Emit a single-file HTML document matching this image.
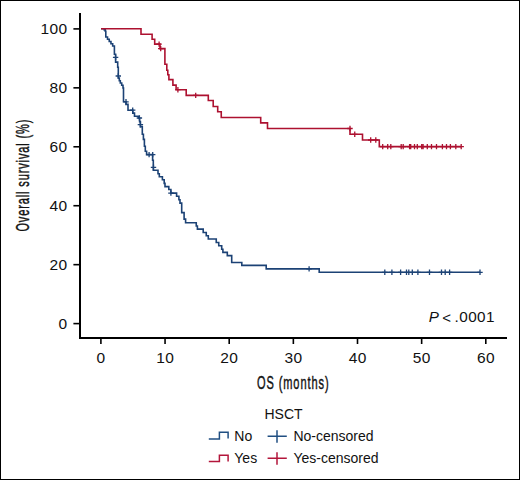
<!DOCTYPE html>
<html><head><meta charset="utf-8"><style>
html,body{margin:0;padding:0;background:#fff;}
body{width:520px;height:480px;overflow:hidden;position:relative;}
#frame{position:absolute;left:0;top:0;width:518px;height:478px;border:1px solid #000;}
svg{position:absolute;left:0;top:0;}
text{font-family:"Liberation Sans",sans-serif;fill:#111;}
</style></head><body>
<div id="frame"></div>
<svg width="520" height="480" viewBox="0 0 520 480">
<rect x="79" y="13" width="2" height="326" fill="#000"/>
<rect x="79" y="337" width="428" height="2" fill="#000"/>
<g stroke="#000" stroke-width="1.6" fill="none"><line x1="100.90" y1="339" x2="100.90" y2="344" /><line x1="165.05" y1="339" x2="165.05" y2="344" /><line x1="229.20" y1="339" x2="229.20" y2="344" /><line x1="293.35" y1="339" x2="293.35" y2="344" /><line x1="357.50" y1="339" x2="357.50" y2="344" /><line x1="421.65" y1="339" x2="421.65" y2="344" /><line x1="485.80" y1="339" x2="485.80" y2="344" /><line x1="73.4" y1="323.60" x2="79" y2="323.60" /><line x1="73.4" y1="264.66" x2="79" y2="264.66" /><line x1="73.4" y1="205.72" x2="79" y2="205.72" /><line x1="73.4" y1="146.78" x2="79" y2="146.78" /><line x1="73.4" y1="87.84" x2="79" y2="87.84" /><line x1="73.4" y1="28.90" x2="79" y2="28.90" /></g>
<g font-size="15.5" letter-spacing="0.4"><text x="101.05" y="363.4" text-anchor="middle">0</text><text x="165.20" y="363.4" text-anchor="middle">10</text><text x="229.35" y="363.4" text-anchor="middle">20</text><text x="293.50" y="363.4" text-anchor="middle">30</text><text x="357.65" y="363.4" text-anchor="middle">40</text><text x="421.80" y="363.4" text-anchor="middle">50</text><text x="485.95" y="363.4" text-anchor="middle">60</text><text x="67.6" y="328.70" text-anchor="end">0</text><text x="67.6" y="269.76" text-anchor="end">20</text><text x="67.6" y="210.82" text-anchor="end">40</text><text x="67.6" y="151.88" text-anchor="end">60</text><text x="67.6" y="92.94" text-anchor="end">80</text><text x="67.6" y="34.00" text-anchor="end">100</text></g>
<path d="M101,28.7 H104.3 V29.9 H105.3 V31.3 H105.8 V37 H107.52 V39.24 H109.24 V41.48 H110.96 V43.72 H112.68 V45.96 H114.40 V48.20 V54.2 H115.6 V62.1 H117.7 V67.3 H118.3 V78 H119.3 V80.7 H120.3 V83 H121.7 V85.3 H123 V88 H123.5 V101.8 H126 V104.4 H128 V110.2 H132.8 V113.1 H134.5 V116.3 H138.6 V118 H139.6 V121.6 H140.4 V126.6 H142.3 V134.2 H143.4 V139.4 H144.4 V146.25 H145.3 V151.25 H146.6 V154.6 H152.6 V160.3 H153.3 V170.2 H158 V173.8 H159.3 V176.7 H162.4 V179.8 H164.2 V183.4 H165 V186.6 H168.8 V189.5 H170.9 V193.1 H176.6 V196.3 H178.9 V199.7 H180 V203.1 H181.7 V212.6 H184.1 V219.1 H185.6 V222.8 H196.25 V226 H197.4 V229.1 H203.2 V232.5 H206.25 V235.8 H208.3 V239 H216.25 V242.5 H218.75 V245.8 H221.7 V249.2 H222.9 V252.4 H227.3 V255.6 H231.7 V262.5 H241.8 V265.4 H266.2 V268.9 H319.2 V272.3 H480" fill="none" stroke="#1c4275" stroke-width="1.6" />
<path d="M112.90,57.30H118.30M115.60,54.60V60.00M115.60,76.00H121.00M118.30,73.30V78.70M123.30,101.80H128.70M126.00,99.10V104.50M130.00,110.20H135.40M132.70,107.50V112.90M136.70,118.00H142.10M139.40,115.30V120.70M137.70,124.70H143.10M140.40,122.00V127.40M146.40,154.60H151.80M149.10,151.90V157.30M150.00,154.60H155.40M152.70,151.90V157.30M150.80,167.30H156.20M153.50,164.60V170.00M168.20,193.10H173.60M170.90,190.40V195.80M306.40,268.90H311.80M309.10,266.20V271.60M382.10,272.30H387.50M384.80,269.60V275.00M389.20,272.30H394.60M391.90,269.60V275.00M397.90,272.30H403.30M400.60,269.60V275.00M403.80,272.30H409.20M406.50,269.60V275.00M406.10,272.30H411.50M408.80,269.60V275.00M409.60,272.30H415.00M412.30,269.60V275.00M415.20,272.30H420.60M417.90,269.60V275.00M426.80,272.30H432.20M429.50,269.60V275.00M438.80,272.30H444.20M441.50,269.60V275.00M442.50,272.30H447.90M445.20,269.60V275.00M446.90,272.30H452.30M449.60,269.60V275.00M477.30,272.30H482.70M480.00,269.60V275.00" fill="none" stroke="#1c4275" stroke-width="1.3" />
<path d="M101,28.7 H141 V34.2 H152.1 V39.2 H154.7 V44.1 H160 V48.6 H164.9 V64.25 H166.8 V70.2 H167.8 V74.7 H168.9 V79.6 H172.9 V85.1 H176.1 V89.7 H186.2 V95.4 H208.3 V100.5 H213.2 V106.5 H217.7 V111.8 H221.25 V117.5 H260.7 V122.9 H267.5 V128.5 H350 V134.3 H362.5 V140 H379.3 V146.6 H461.2" fill="none" stroke="#ad1130" stroke-width="1.6" />
<path d="M156.40,44.10H161.80M159.10,41.40V46.80M158.00,48.60H163.40M160.70,45.90V51.30M175.20,89.70H180.60M177.90,87.00V92.40M193.00,95.40H198.40M195.70,92.70V98.10M347.30,128.50H352.70M350.00,125.80V131.20M352.05,134.30H357.45M354.75,131.60V137.00M368.00,140.00H373.40M370.70,137.30V142.70M373.10,140.00H378.50M375.80,137.30V142.70M380.00,146.60H385.40M382.70,143.90V149.30M385.00,146.60H390.40M387.70,143.90V149.30M388.10,146.60H393.50M390.80,143.90V149.30M398.50,146.60H403.90M401.20,143.90V149.30M400.50,146.60H405.90M403.20,143.90V149.30M406.90,146.60H412.30M409.60,143.90V149.30M408.00,146.60H413.40M410.70,143.90V149.30M411.80,146.60H417.20M414.50,143.90V149.30M414.60,146.60H420.00M417.30,143.90V149.30M419.00,146.60H424.40M421.70,143.90V149.30M420.40,146.60H425.80M423.10,143.90V149.30M424.60,146.60H430.00M427.30,143.90V149.30M428.80,146.60H434.20M431.50,143.90V149.30M433.80,146.60H439.20M436.50,143.90V149.30M439.70,146.60H445.10M442.40,143.90V149.30M443.80,146.60H449.20M446.50,143.90V149.30M447.70,146.60H453.10M450.40,143.90V149.30M453.10,146.60H458.50M455.80,143.90V149.30M458.50,146.60H463.90M461.20,143.90V149.30" fill="none" stroke="#ad1130" stroke-width="1.3" />
<text x="0" y="0" font-size="19" stroke="#111" stroke-width="0.45" letter-spacing="1.5" transform="translate(29,231.6) rotate(-90) scale(0.58,1)">Overall survival (%)</text>
<text x="0" y="0" font-size="19" stroke="#111" stroke-width="0.45" letter-spacing="1.6" transform="translate(256.9,389.2) scale(0.58,1)">OS (months)</text>
<text x="428.8" y="322" font-size="15.2" font-style="italic">P</text><text x="442.2" y="323" font-size="15">&lt;</text><text x="454.6" y="322" font-size="15.3" letter-spacing="0.4">.0001</text>
<text x="264.5" y="418.7" font-size="14">HSCT</text>
<path d="M208.8,438.9 H219.4 V432.2 H228.1 V438.5" fill="none" stroke="#204f82" stroke-width="1.5"/>
<text x="234.3" y="440.5" font-size="14">No</text>
<path d="M267.6,436.25 H286.8 M277,430.2 V442.8" fill="none" stroke="#204f82" stroke-width="1.5"/>
<text x="293.4" y="441" font-size="14">No-censored</text>
<path d="M208.8,461.5 H219.4 V455.3 H228.1 V461.5" fill="none" stroke="#b3163b" stroke-width="1.5"/>
<text x="234.3" y="463" font-size="14">Yes</text>
<path d="M267.6,458.3 H286.8 M277,452.2 V464.8" fill="none" stroke="#b3163b" stroke-width="1.5"/>
<text x="293.4" y="463.3" font-size="14">Yes-censored</text>
</svg>
</body></html>
